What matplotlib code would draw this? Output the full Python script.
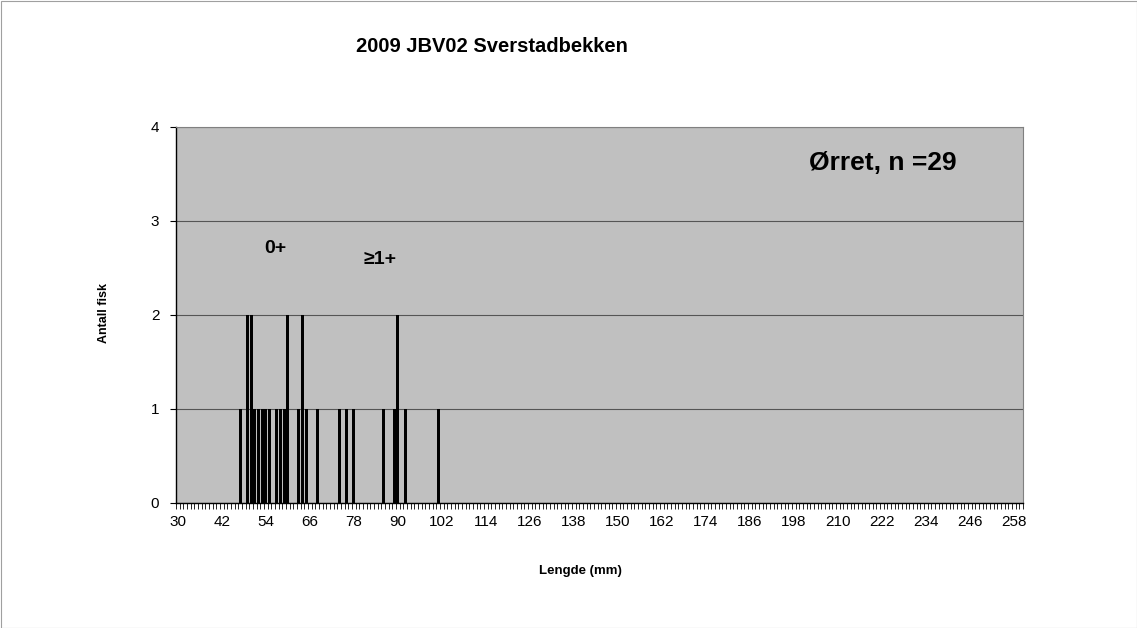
import matplotlib.pyplot as plt
import numpy as np
from matplotlib.patches import Rectangle

plt.rcParams['font.family'] = ['Liberation Sans', 'DejaVu Sans']

# lengths (mm) and number of fish
lengths = [47, 49, 50, 51, 52, 53, 54, 55, 57, 58, 59, 60, 63, 64, 65, 68,
           74, 76, 78, 86, 89, 90, 92, 101]
counts = [1, 2, 2, 1, 1, 1, 1, 1, 1, 1, 1, 2, 1, 2, 1, 1,
          1, 1, 1, 1, 1, 2, 1, 1]
x_min, x_max = 30, 260
x_labels = list(range(30, 259, 12))
y_ticks = [0, 1, 2, 3, 4]

W, H = 1137, 628
fig = plt.figure(figsize=(W / 100, H / 100), dpi=100)
ax = fig.add_axes([176 / W, 1 - 503 / H, (1023 - 176) / W, (503 - 127) / H])
ax.set_facecolor('#C0C0C0')

ax.bar(lengths, counts, width=0.75, color='black', zorder=3)

ax.set_xlim(x_min - 0.5, x_max + 0.5)
ax.set_ylim(0, 4)
ax.set_yticks(y_ticks)
ax.set_xticks(x_labels)
ax.set_xticks(np.arange(x_min - 0.5, x_max + 1), minor=True)
ax.tick_params(axis='x', which='major', length=0, labelsize=11, pad=9)
ax.tick_params(axis='x', which='minor', length=4, width=0.6, direction='out')
ax.tick_params(axis='y', length=4, width=0.8, labelsize=11, pad=8)
ax.grid(axis='y', color='#555555', linewidth=0.8, zorder=1)

for s in ['left', 'bottom']:
    ax.spines[s].set_color('black')
    ax.spines[s].set_linewidth(1.0)
for s in ['top', 'right']:
    ax.spines[s].set_color('#808080')
    ax.spines[s].set_linewidth(0.8)

fig.text(104 / W, 1 - 313 / H, 'Antall fisk', fontsize=9, fontweight='bold',
         rotation=90, ha='center', va='center')
fig.text(580 / W, 1 - 571 / H, 'Lengde (mm)', fontsize=9.5, fontweight='bold',
         ha='center', va='center')
fig.text(492 / W, 1 - 47 / H, '2009 JBV02 Sverstadbekken', fontsize=14.5,
         fontweight='bold', ha='center', va='center')

ax.text(56.5, 2.71, '0+', fontsize=14, fontweight='bold', ha='center', va='center')
ax.text(85.1, 2.59, '≥1+', fontsize=14, fontweight='bold', ha='center', va='center')
ax.text(222.3, 3.62, 'Ørret, n =29', fontsize=19, fontweight='bold', ha='center', va='center')

fig.patches.append(Rectangle((0.5 / W, 0.5 / H), 1 - 1 / W, 1 - 1 / H,
                             transform=fig.transFigure, fill=False,
                             edgecolor='#A0A0A0', linewidth=0.8))

fig.savefig('out.png', dpi=100)
